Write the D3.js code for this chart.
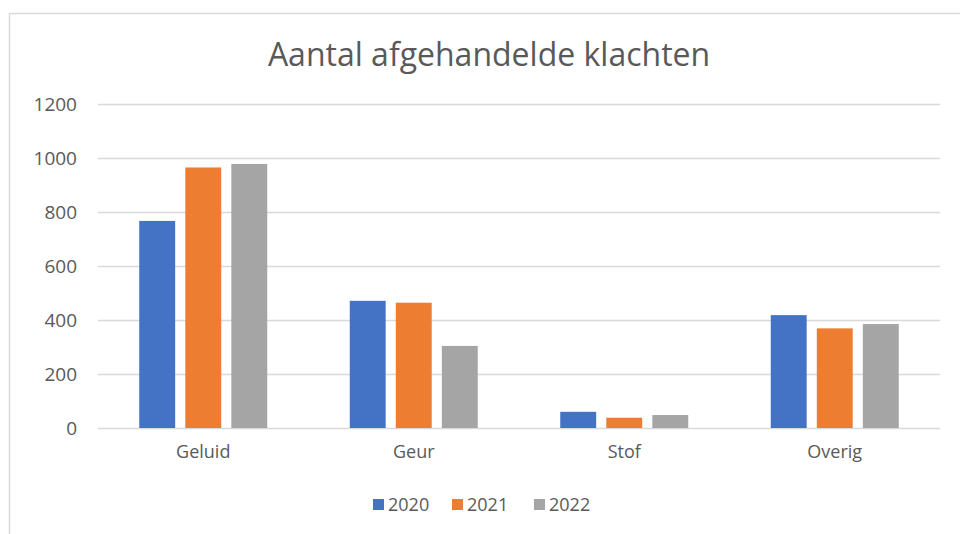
<!DOCTYPE html>
<html>
<head>
<meta charset="utf-8">
<script src="https://cdn.jsdelivr.net/npm/d3@7/dist/d3.min.js"></script>
<style>
  html, body { margin: 0; padding: 0; background: #fff; }
  svg { display: block; }
  text { font-family: "Open Sans", "Noto Sans", sans-serif; }
</style>
</head>
<body>
<svg id="chart" width="960" height="534"></svg>
<script>
const categories = ["Geluid", "Geur", "Stof", "Overig"];
const seriesNames = ["2020", "2021", "2022"];
const values2020 = [767, 471, 60, 418];
const values2021 = [965, 464, 38, 369];
const values2022 = [978, 304, 48, 385];
const yTicks = [0, 200, 400, 600, 800, 1000, 1200];
const colors = ["#4472c4", "#ed7d31", "#a5a5a5"];
const chartTitle = "Aantal afgehandelde klachten";

const seriesValues = [values2020, values2021, values2022];

const svg = d3.select("#chart");
const W = 960, H = 534;

svg.append("rect").attr("width", W).attr("height", H).attr("fill", "#fff");
// chart frame
svg.append("rect")
  .attr("x", 9.5).attr("y", 13.5)
  .attr("width", 980).attr("height", 560)
  .attr("fill", "none").attr("stroke", "#d9d9d9").attr("stroke-width", 1.5);

const plot = { left: 98, right: 940, top: 104, bottom: 428 };

const y = d3.scaleLinear().domain([0, 1200]).range([plot.bottom, plot.top]);
const x0 = d3.scaleBand().domain(categories).range([plot.left, plot.right])
  .paddingInner(0.392).paddingOuter(0.196);
const x1 = d3.scaleBand().domain(seriesNames).range([0, x0.bandwidth()])
  .paddingInner(0.22).paddingOuter(0);

// gridlines
svg.append("g").selectAll("line").data(yTicks).join("line")
  .attr("x1", plot.left).attr("x2", plot.right)
  .attr("y1", d => Math.round(y(d)) + 0.5).attr("y2", d => Math.round(y(d)) + 0.5)
  .attr("stroke", "#d9d9d9").attr("stroke-width", 1.3);

// y axis labels
const yAxis = d3.axisLeft(y).tickValues(yTicks).tickFormat(d3.format("d")).tickSize(0).tickPadding(0);
const gy = svg.append("g").attr("transform", `translate(${77},0)`).call(yAxis);
gy.select(".domain").remove();
gy.selectAll("text").attr("font-size", 19).attr("fill", "#595959")
  .attr("font-family", "'Open Sans', sans-serif");

// bars
const groups = svg.append("g").selectAll("g").data(categories).join("g")
  .attr("transform", d => `translate(${x0(d)},0)`);
groups.selectAll("rect")
  .data((c, i) => seriesNames.map((s, j) => ({ s, v: seriesValues[j][i], j })))
  .join("rect")
  .attr("x", d => x1(d.s))
  .attr("width", x1.bandwidth())
  .attr("y", d => y(d.v))
  .attr("height", d => y(0) - y(d.v))
  .attr("fill", d => colors[d.j]);

// x axis labels
const xAxis = d3.axisBottom(x0).tickSize(0).tickPadding(0);
const gx = svg.append("g").attr("transform", `translate(0,${445})`).call(xAxis);
gx.select(".domain").remove();
gx.selectAll("text").attr("font-size", 18).attr("fill", "#595959")
  .attr("font-family", "'Open Sans', sans-serif");

// title
svg.append("text")
  .attr("x", 489).attr("y", 66)
  .attr("text-anchor", "middle")
  .attr("font-size", 32)
  .attr("fill", "#595959")
  .text(chartTitle);

// legend
const legendX = [373, 452, 534];
const lg = svg.append("g").selectAll("g").data(seriesNames).join("g")
  .attr("transform", (d, i) => `translate(${legendX[i]},${499})`);
lg.append("rect").attr("width", 11).attr("height", 11).attr("fill", (d, i) => colors[i]);
lg.append("text").attr("x", 15).attr("y", 12)
  .attr("font-size", 18).attr("fill", "#595959").text(d => d);
</script>
</body>
</html>
